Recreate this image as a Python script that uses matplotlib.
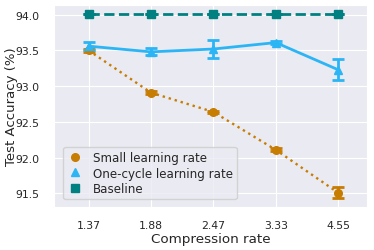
import matplotlib
matplotlib.use("Agg")
import matplotlib.pyplot as plt
import seaborn as sns

sns.set_style("darkgrid")

rates = ["1.37", "1.88", "2.47", "3.33", "4.55"]
small_lr = [93.50, 92.91, 92.64, 92.11, 91.51]
small_err = [0.02, 0.02, 0.02, 0.02, 0.08]
onecycle_lr = [93.56, 93.48, 93.52, 93.61, 93.23]
onecycle_err = [0.06, 0.05, 0.12, 0.02, 0.15]
baseline = [94.01, 94.01, 94.01, 94.01, 94.01]
baseline_err = [0.0, 0.0, 0.0, 0.0, 0.0]

fig = plt.figure(figsize=(3.74, 2.51), dpi=100)
ax = fig.add_axes([0.145, 0.171, 0.836, 0.805])

x = list(range(len(rates)))
ax.errorbar(x, small_lr, yerr=small_err, color="#c77c02", marker="o", ms=5.5,
            ls=":", lw=1.7, capsize=4, elinewidth=2, capthick=2, label="Small learning rate")
ax.errorbar(x, onecycle_lr, yerr=onecycle_err, color="#2bb5f5", marker="^", ms=5.5,
            ls="-", lw=2, capsize=4, elinewidth=2, capthick=2, label="One-cycle learning rate")
ax.errorbar(x, baseline, yerr=baseline_err, color="#008080", marker="s", ms=5.5,
            ls="--", lw=2, capsize=4, elinewidth=2, capthick=2, label="Baseline")

ax.set_xticks(x)
ax.set_xticklabels(rates)
ax.set_xlim(-0.55, 4.46)
ax.set_ylim(91.31, 94.135)
ax.set_yticks([91.5, 92.0, 92.5, 93.0, 93.5, 94.0])
ax.tick_params(labelsize=7.8, labelcolor="#262626")
ax.tick_params(axis="y", pad=7)
ax.tick_params(axis="x", pad=6)
ax.set_xlabel("Compression rate", fontsize=9.7, labelpad=1)
ax.set_ylabel("Test Accuracy (%)", fontsize=9.5)
ax.yaxis.set_label_coords(-0.117, 0.5)

handles, labels = ax.get_legend_handles_labels()
handles = [h[0] for h in handles]
leg = ax.legend(handles, labels, loc="lower left", fontsize=8.6, handlelength=1.2,
                frameon=True, borderpad=0.35, labelspacing=0.2, handletextpad=0.9,
                bbox_to_anchor=(0.01, 0.01))
for h in leg.legend_handles:
    h.set_linestyle("")

fig.savefig("out.png", dpi=100)
